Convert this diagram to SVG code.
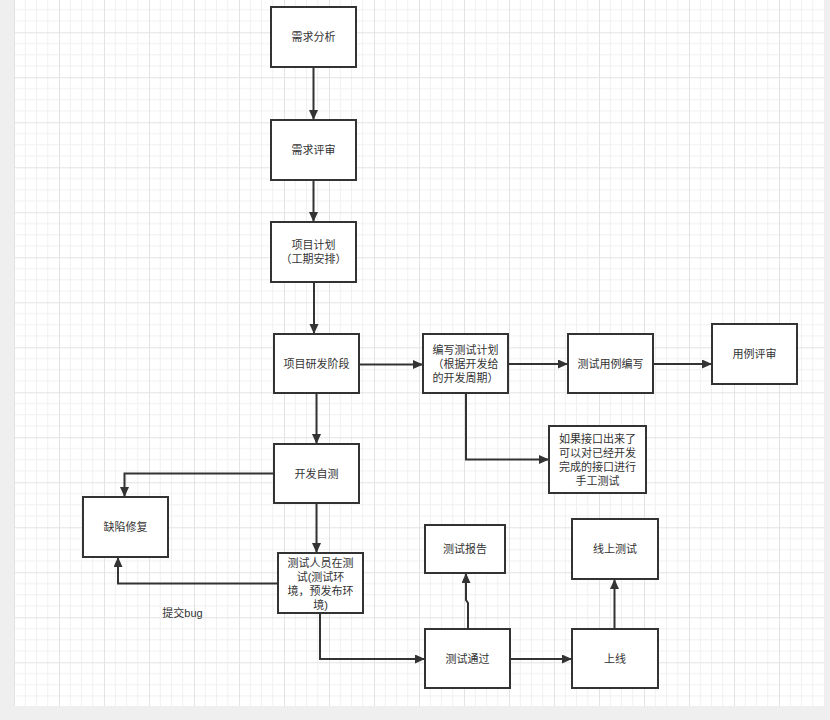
<svg xmlns="http://www.w3.org/2000/svg" width="830" height="720" viewBox="0 0 830 720">
<defs>
<pattern id="grid" x="14" y="-12.7" width="45" height="45" patternUnits="userSpaceOnUse">
<path d="M11.25,0V45M22.5,0V45M33.75,0V45M0,11.25H45M0,22.5H45M0,33.75H45" stroke="#f0f0f0" stroke-width="1" fill="none"/>
<path d="M0.5,0V45M0,0.5H45" stroke="#e3e3e3" stroke-width="1" fill="none"/>
</pattern>
<marker id="arr" markerUnits="userSpaceOnUse" markerWidth="12" markerHeight="10" refX="10" refY="4.5" orient="auto">
<path d="M0,0 L10,4.5 L0,9 z" fill="#333"/>
</marker>
<style>
.box{fill:#fff;stroke:#333;stroke-width:2}
.t{font-family:"Liberation Sans","Noto Sans CJK SC",sans-serif;font-size:11px;fill:#333;text-anchor:middle;dominant-baseline:central}
.c{fill:none;stroke:#333;stroke-width:2;marker-end:url(#arr)}
</style>
</defs>
<rect width="830" height="720" fill="#efefef"/>
<rect x="14" y="0" width="810" height="706" fill="#fff"/>
<rect x="14" y="0" width="810" height="706" fill="url(#grid)"/>

<g id="connectors">
<path class="c" d="M313.5,67V120"/>
<path class="c" d="M313.5,180V222"/>
<path class="c" d="M314,282V334"/>
<path class="c" d="M316.5,393V444"/>
<path class="c" d="M359,364.5H423"/>
<path class="c" d="M508,364H568"/>
<path class="c" d="M653,364H712"/>
<path class="c" d="M466,393V459.5H549"/>
<path class="c" d="M274,473.5H124.5V497"/>
<path class="c" d="M316.5,503V553"/>
<path class="c" d="M278,583.5H118V557"/>
<path class="c" d="M320,613V659H425"/>
<path class="c" d="M468,629V603L466,600V573"/>
<path class="c" d="M510,659H572"/>
<path class="c" d="M614.5,629V579"/>
</g>
<text class="t" x="182.5" y="612.5">提交bug</text>

<g id="n1"><rect class="box" x="271" y="7" width="85" height="60"/><text class="t" x="313.5" y="37">需求分析</text></g>
<g id="n2"><rect class="box" x="271" y="120" width="85" height="60"/><text class="t" x="313.5" y="150">需求评审</text></g>
<g id="n3"><rect class="box" x="271" y="222" width="85" height="60"/><text class="t"><tspan x="313.5" y="245">项目计划</tspan><tspan x="313.5" y="259">（工期安排）</tspan></text></g>
<g id="n4"><rect class="box" x="274" y="334" width="85" height="59"/><text class="t" x="316.5" y="363.5">项目研发阶段</text></g>
<g id="n5"><rect class="box" x="423" y="334" width="85" height="59"/><text class="t"><tspan x="465.5" y="350">编写测试计划</tspan><tspan x="465.5" y="364">（根据开发给</tspan><tspan x="465.5" y="378">的开发周期）</tspan></text></g>
<g id="n6"><rect class="box" x="568" y="334" width="85" height="59"/><text class="t" x="610.5" y="363.5">测试用例编写</text></g>
<g id="n7"><rect class="box" x="712" y="324" width="85" height="60"/><text class="t" x="754.5" y="354">用例评审</text></g>
<g id="n8"><rect class="box" x="549" y="426" width="97" height="67"/><text class="t"><tspan x="597.5" y="438.5">如果接口出来了</tspan><tspan x="597.5" y="452.5">可以对已经开发</tspan><tspan x="597.5" y="466.5">完成的接口进行</tspan><tspan x="597.5" y="480.5">手工测试</tspan></text></g>
<g id="n9"><rect class="box" x="274" y="444" width="85" height="59"/><text class="t" x="316.5" y="473.5">开发自测</text></g>
<g id="n10"><rect class="box" x="83" y="497" width="85" height="60"/><text class="t" x="125.5" y="527">缺陷修复</text></g>
<g id="n11"><rect class="box" x="278" y="553" width="85" height="60"/><text class="t"><tspan x="320.5" y="563">测试人员在测</tspan><tspan x="320.5" y="577">试(测试环</tspan><tspan x="320.5" y="591">境，预发布环</tspan><tspan x="320.5" y="605">境)</tspan></text></g>
<g id="n12"><rect class="box" x="425" y="525" width="80" height="48"/><text class="t" x="465" y="549">测试报告</text></g>
<g id="n13"><rect class="box" x="425" y="629" width="85" height="59"/><text class="t" x="467.5" y="658.5">测试通过</text></g>
<g id="n14"><rect class="box" x="572" y="519" width="86" height="60"/><text class="t" x="615" y="549">线上测试</text></g>
<g id="n15"><rect class="box" x="572" y="629" width="86" height="59"/><text class="t" x="615" y="658.5">上线</text></g>
</svg>
